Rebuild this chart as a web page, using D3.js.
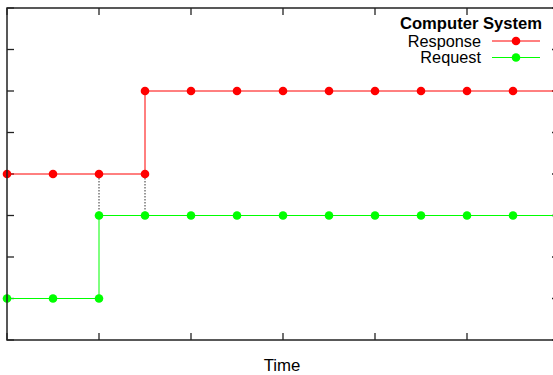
<!DOCTYPE html>
<html>
<head>
<meta charset="utf-8">
<script src="https://cdn.jsdelivr.net/npm/d3@7"></script>
<style>
  body { margin: 0; background: #fff; }
  svg { display: block; font-family: "Liberation Sans", Arial, sans-serif; }
</style>
</head>
<body>
<svg id="chart" width="553" height="375"></svg>
<script>
// Step data (x in half-tick units, y in tick units)
const responseX = [0, 1, 2, 3, 3, 4, 5, 6, 7, 8, 9, 10, 11];
const responseY = [4, 4, 4, 4, 6, 6, 6, 6, 6, 6, 6, 6, 6];
const requestX = [0, 1, 2, 2, 3, 4, 5, 6, 7, 8, 9, 10, 11];
const requestY = [1, 1, 1, 3, 3, 3, 3, 3, 3, 3, 3, 3, 3];
const xTicks = [0, 2, 4, 6, 8, 10, 12];
const yTicks = [0, 1, 2, 3, 4, 5, 6, 7, 8];
// dotted drop lines between the two series
const dropX = [2, 3];

(function () {
  const svg = d3.select('#chart');
  const m = { left: 7, right: 559, top: 8, bottom: 340 };

  const x = d3.scaleLinear().domain([0, 12]).range([m.left, m.right]);
  const y = d3.scaleLinear().domain([0, 8]).range([m.bottom, m.top]);

  const tick = 7;
  const axisG = svg.append('g').attr('stroke', '#222').attr('stroke-width', 1.3);

  // inward ticks on all four sides
  axisG.append('g').selectAll('line').data(yTicks).join('line')
    .attr('x1', m.left).attr('x2', m.left + tick).attr('y1', y).attr('y2', y);
  axisG.append('g').selectAll('line').data(yTicks).join('line')
    .attr('x1', m.right).attr('x2', m.right - tick).attr('y1', y).attr('y2', y);
  axisG.append('g').selectAll('line').data(xTicks).join('line')
    .attr('x1', x).attr('x2', x).attr('y1', m.bottom).attr('y2', m.bottom - tick);
  axisG.append('g').selectAll('line').data(xTicks).join('line')
    .attr('x1', x).attr('x2', x).attr('y1', m.top).attr('y2', m.top + tick);

  // dotted connectors
  svg.append('g').selectAll('line').data(dropX).join('line')
    .attr('x1', x).attr('x2', x)
    .attr('y1', y(4) + 4).attr('y2', y(3) - 4)
    .attr('stroke', '#333').attr('stroke-width', 1).attr('stroke-dasharray', '1.5,1.5');

  const series = [
    { name: 'Response', color: '#ff0000', xs: responseX, ys: responseY },
    { name: 'Request', color: '#00ff00', xs: requestX, ys: requestY }
  ];

  const line = d3.line().x((d) => x(d[0])).y((d) => y(d[1]));

  series.forEach((s) => {
    const pts = s.xs.map((v, i) => [v, s.ys[i]]);
    // line runs on to the right border
    const linePts = pts.concat([[12, s.ys[s.ys.length - 1]]]);
    svg.append('path').datum(linePts)
      .attr('d', line).attr('fill', 'none')
      .attr('stroke', s.color).attr('stroke-width', 1);
    svg.append('g').selectAll('circle').data(pts).join('circle')
      .attr('cx', (d) => x(d[0])).attr('cy', (d) => y(d[1]))
      .attr('r', 4.3).attr('fill', s.color);
  });

  // frame
  svg.append('rect')
    .attr('x', m.left).attr('y', m.top)
    .attr('width', m.right - m.left).attr('height', m.bottom - m.top)
    .attr('fill', 'none').attr('stroke', '#222').attr('stroke-width', 1.5);

  // legend
  const legend = svg.append('g');
  legend.append('text')
    .attr('x', 542).attr('y', 29)
    .attr('text-anchor', 'end')
    .attr('font-weight', 'bold').attr('font-size', 16.6)
    .text('Computer System');
  series.forEach((s, i) => {
    const ly = 41 + i * 16.5;
    legend.append('text')
      .attr('x', 481).attr('y', ly).attr('dy', '0.35em')
      .attr('text-anchor', 'end').attr('font-size', 16.3)
      .text(s.name);
    legend.append('line')
      .attr('x1', 492).attr('x2', 540).attr('y1', ly).attr('y2', ly)
      .attr('stroke', s.color).attr('stroke-width', 1);
    legend.append('circle')
      .attr('cx', 516).attr('cy', ly).attr('r', 4.3).attr('fill', s.color);
  });

  // axis title
  svg.append('text')
    .attr('x', (m.left + m.right) / 2 - 1).attr('y', 371)
    .attr('text-anchor', 'middle').attr('font-size', 16.8)
    .text('Time');
})();
</script>
</body>
</html>
